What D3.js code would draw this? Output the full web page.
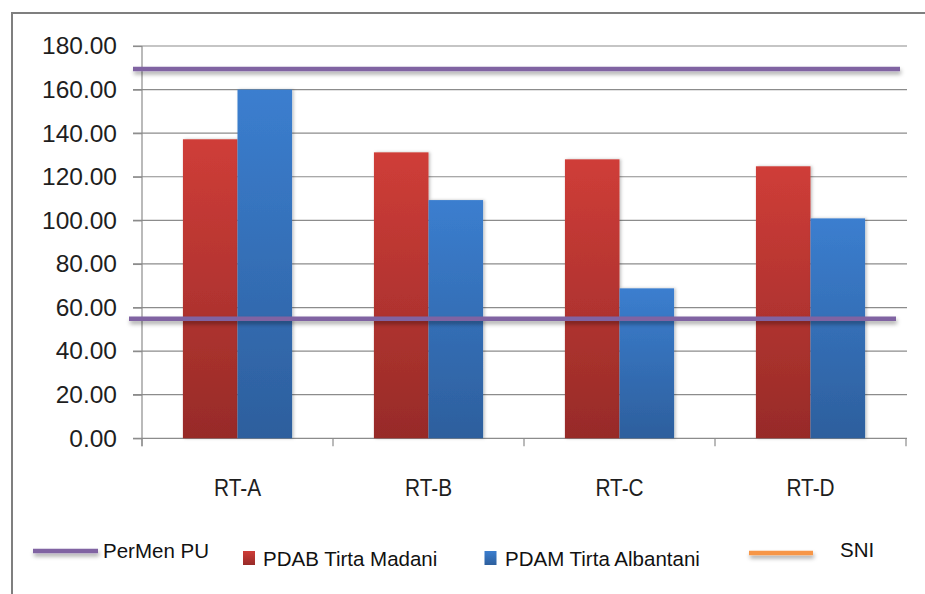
<!DOCTYPE html>
<html>
<head>
<meta charset="utf-8">
<script src="https://cdn.jsdelivr.net/npm/d3@7"></script>
<style>
  html, body { margin: 0; padding: 0; background: #fff; }
  svg { display: block; font-family: "Liberation Sans", Arial, sans-serif; }
</style>
</head>
<body>
<svg id="chart" width="925" height="594"></svg>
<script>
// Water use per RT, two suppliers, with two reference levels
const categories = ["RT-A", "RT-B", "RT-C", "RT-D"];
const seriesNames = ["PDAB Tirta Madani", "PDAM Tirta Albantani"];
const madani = [137.2, 131.2, 128.0, 124.8];
const albantani = [160.0, 109.3, 68.8, 100.9];
const referenceLevels = [169.5, 54.8];
const yTicks = [0, 20, 40, 60, 80, 100, 120, 140, 160, 180];
const legendNames = ["PerMen PU", "PDAB Tirta Madani", "PDAM Tirta Albantani", "SNI"];

const svg = d3.select("#chart");
const W = 925, H = 594;
const plotLeft = 142, plotRight = 906, plotTop = 46, plotBottom = 438.3;

const defs = svg.append("defs");
function grad(id, c1, c2) {
  const g = defs.append("linearGradient").attr("id", id)
    .attr("x1", 0).attr("y1", 0).attr("x2", 0).attr("y2", 1);
  g.append("stop").attr("offset", "0%").attr("stop-color", c1);
  g.append("stop").attr("offset", "100%").attr("stop-color", c2);
}
grad("gRed", "#cf3d38", "#972b28");
grad("gBlue", "#3b7ecf", "#2d5f9d");

const lineShadow = defs.append("filter").attr("id", "lineShadow")
  .attr("filterUnits", "userSpaceOnUse")
  .attr("x", 0).attr("y", 0).attr("width", W).attr("height", H);
lineShadow.append("feDropShadow").attr("dx", 1).attr("dy", 3)
  .attr("stdDeviation", 2).attr("flood-color", "#000").attr("flood-opacity", 0.35);

const barShadow = defs.append("filter").attr("id", "barShadow")
  .attr("x", "-20%").attr("y", "-5%").attr("width", "140%").attr("height", "110%");
barShadow.append("feDropShadow").attr("dx", 1.5).attr("dy", 0)
  .attr("stdDeviation", 1.5).attr("flood-color", "#000").attr("flood-opacity", 0.25);

// outer frame
svg.append("rect").attr("x", 12).attr("y", 13).attr("width", W + 20).attr("height", H + 20)
  .attr("fill", "none").attr("stroke", "#7f7f7f").attr("stroke-width", 2);

const x0 = d3.scaleBand().domain(categories).range([plotLeft, plotRight]).paddingInner(0).paddingOuter(0);
const y = d3.scaleLinear().domain([0, 180]).range([plotBottom, plotTop]);

// gridlines
svg.append("g").selectAll("line").data(yTicks.filter(d => d > 0)).join("line")
  .attr("x1", plotLeft - 9).attr("x2", plotRight + 1)
  .attr("y1", d => y(d)).attr("y2", d => y(d))
  .attr("stroke", "#8c8c8c").attr("stroke-width", 1.2);

// y axis
const yAxis = svg.append("g").attr("transform", `translate(${plotLeft},0)`)
  .call(d3.axisLeft(y).tickValues(yTicks).tickFormat(d3.format(".2f")).tickSize(9).tickPadding(16));
yAxis.select(".domain").attr("stroke", "#8c8c8c").attr("stroke-width", 1.2)
  .attr("d", `M0,${plotTop}V${plotBottom + 8}`);
yAxis.selectAll(".tick line").attr("stroke", "#8c8c8c").attr("stroke-width", 1.2);
yAxis.selectAll(".tick text").attr("font-size", 24.5).attr("fill", "#1e1e1e")
  .attr("font-family", "Liberation Sans, Arial, sans-serif");

// x axis
const xAxis = svg.append("g").attr("transform", `translate(0,${plotBottom})`)
  .call(d3.axisBottom(x0).tickSize(0).tickPadding(40));
xAxis.select(".domain").remove();
xAxis.append("line").attr("x1", plotLeft - 9).attr("x2", plotRight + 1)
  .attr("stroke", "#8c8c8c").attr("stroke-width", 1.2);
xAxis.selectAll(".catTick").data([...categories.map(c => x0(c)), plotRight]).join("line")
  .attr("class", "catTick").attr("x1", d => d).attr("x2", d => d).attr("y1", 0).attr("y2", 8)
  .attr("stroke", "#8c8c8c").attr("stroke-width", 1.2);
xAxis.selectAll(".tick text").attr("font-size", 24.5).attr("fill", "#1e1e1e")
  .attr("font-family", "Liberation Sans, Arial, sans-serif")
  .each(function () {
    const w = this.getComputedTextLength();
    d3.select(this).attr("textLength", w * 0.85).attr("lengthAdjust", "spacingAndGlyphs");
  });

// bars
const rows = categories.map((c, i) => ({ cat: c, vals: [madani[i], albantani[i]] }));
const fills = ["url(#gRed)", "url(#gBlue)"];
const bw = x0.bandwidth() / 3.5;
svg.append("g").selectAll("g").data(rows).join("g")
  .attr("transform", d => `translate(${x0(d.cat)},0)`)
  .selectAll("rect").data(d => d.vals).join("rect")
  .attr("x", (d, j) => bw * 0.75 + j * bw)
  .attr("width", bw)
  .attr("y", d => y(d))
  .attr("height", d => y(0) - y(d))
  .attr("fill", (d, j) => fills[j])
  .attr("filter", "url(#barShadow)");

// reference lines
svg.append("g").selectAll("line").data(referenceLevels).join("line")
  .attr("x1", (d, i) => i === 0 ? plotLeft - 9 : plotLeft - 13)
  .attr("x2", (d, i) => i === 0 ? plotRight - 6 : plotRight - 10)
  .attr("y1", d => y(d)).attr("y2", d => y(d))
  .attr("stroke", "#8064a2").attr("stroke-width", 4.5)
  .attr("filter", "url(#lineShadow)");

// legend
const lg = svg.append("g").attr("font-family", "Liberation Sans, Arial, sans-serif")
  .attr("font-size", 20.5).attr("fill", "#111");
lg.append("line").attr("x1", 33).attr("x2", 98).attr("y1", 551).attr("y2", 551)
  .attr("stroke", "#8064a2").attr("stroke-width", 4.5).attr("filter", "url(#lineShadow)");
lg.append("text").attr("x", 103).attr("y", 557.5).text(legendNames[0]);
lg.append("rect").attr("x", 243).attr("y", 551).attr("width", 12).attr("height", 14)
  .attr("fill", "url(#gRed)");
lg.append("text").attr("x", 263).attr("y", 566).text(legendNames[1]);
lg.append("rect").attr("x", 484.5).attr("y", 551).attr("width", 12).attr("height", 14)
  .attr("fill", "url(#gBlue)");
lg.append("text").attr("x", 505).attr("y", 566).text(legendNames[2]);
lg.append("line").attr("x1", 749).attr("x2", 813).attr("y1", 553).attr("y2", 553)
  .attr("stroke", "#f79646").attr("stroke-width", 4.5).attr("filter", "url(#lineShadow)");
lg.append("text").attr("x", 840).attr("y", 557).text(legendNames[3]);
</script>
</body>
</html>
